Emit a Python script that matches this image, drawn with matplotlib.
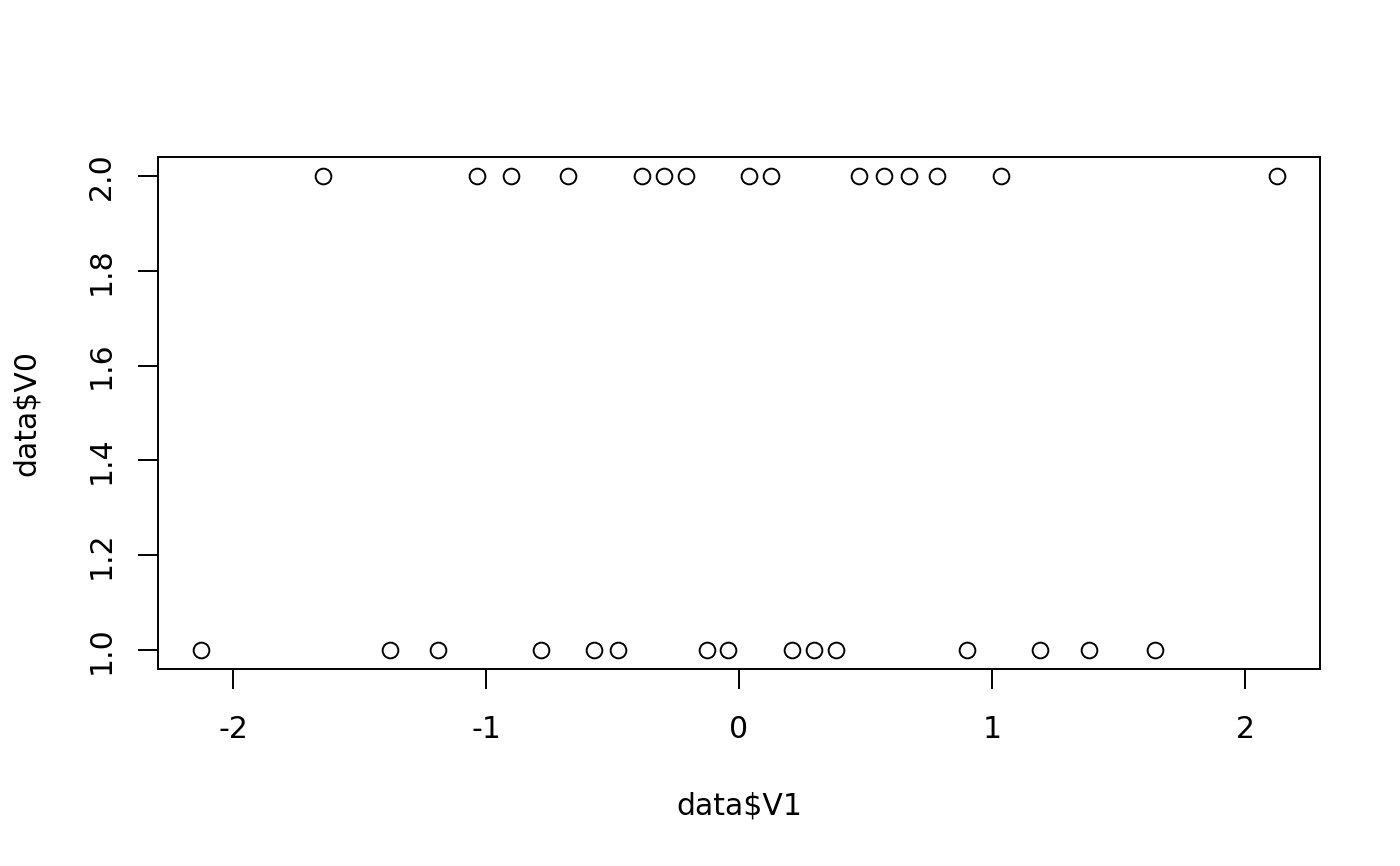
import matplotlib
matplotlib.use("Agg")
import matplotlib.pyplot as plt
import numpy as np

# values
v1_top = [-1.644, -1.036, -0.901, -0.676, -0.383, -0.296, -0.209, 0.040,
          0.126, 0.474, 0.573, 0.672, 0.783, 1.036, 2.127]
v1_bottom = [-2.127, -1.379, -1.190, -0.783, -0.573, -0.478, -0.126, -0.043,
             0.209, 0.296, 0.383, 0.901, 1.190, 1.383, 1.644]
v1 = v1_top + v1_bottom
v0 = [2] * len(v1_top) + [1] * len(v1_bottom)

xticks = [-2, -1, 0, 1, 2]
yticks = [1.0, 1.2, 1.4, 1.6, 1.8, 2.0]

plt.rcParams['font.family'] = ['DejaVu Sans']
fig = plt.figure(figsize=(14, 8.66), dpi=100)
ax = fig.add_axes([158 / 1400, 197 / 866, 1162 / 1400, 512 / 866])

ax.plot(v1, v0, 'o', markersize=11.3, markerfacecolor='none',
        markeredgecolor='black', markeredgewidth=1.4)

ax.set_xlim(-2.297, 2.297)
ax.set_ylim(0.96, 2.04)
ax.set_xticks(xticks)
ax.set_xticklabels([str(t) for t in xticks])
ax.set_yticks(yticks)
ax.set_yticklabels(["%.1f" % t for t in yticks], rotation=90, va='center')

for s in ax.spines.values():
    s.set_linewidth(1.4)
ax.tick_params(direction='out', length=14.4, width=1.4, labelsize=21.5)
ax.tick_params(axis='x', pad=19)
ax.tick_params(axis='y', pad=16)

ax.set_xlabel("data$V1", fontsize=21.5, labelpad=34)
ax.set_ylabel("data$V0", fontsize=21.5, labelpad=33)

fig.savefig("out.png", dpi=100)
